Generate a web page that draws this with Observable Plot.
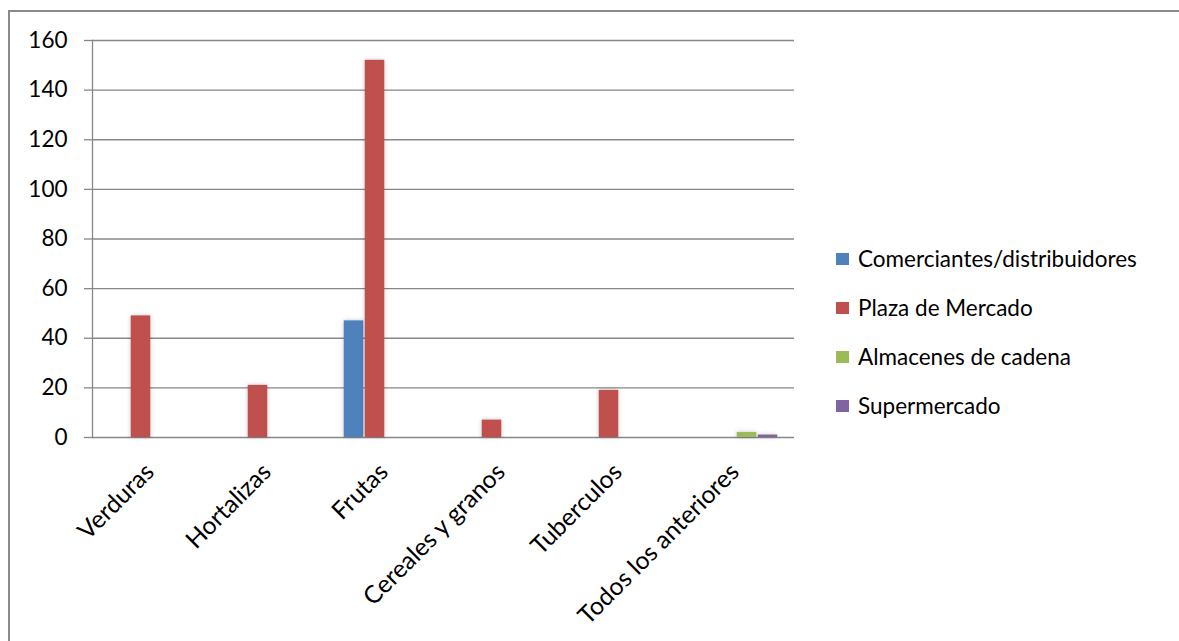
<!DOCTYPE html>
<html>
<head>
<meta charset="utf-8">
<script src="https://cdn.jsdelivr.net/npm/d3@7"></script>
<script src="https://cdn.jsdelivr.net/npm/@observablehq/plot@0.6"></script>
<style>
  body { margin: 0; background: #fff; }
  #wrap { position: relative; width: 1179px; height: 641px; overflow: hidden;
          font-family: Lato, "Open Sans", sans-serif; }
  #border { position: absolute; left: 8px; top: 10px; width: 1400px; height: 900px;
            border: 2px solid #8a8a8a; box-sizing: border-box; }
  #chart { position: absolute; left: 0; top: 0; }
  #chart g[aria-label="bar"] rect { filter: drop-shadow(0 0 2px rgba(0,0,0,0.22)); }
  #legend { position: absolute; left: 836px; top: 234px; }
  .item { display: flex; align-items: center; height: 49px; font-size: 22.5px; color: #000; }
  .swatch { width: 13px; height: 12px; margin-right: 9px; }
</style>
</head>
<body>
<div id="wrap">
  <div id="border"></div>
  <div id="chart"></div>
  <div id="legend"></div>
</div>
<script>
// Food categories and where households buy them
const categories = ["Verduras", "Hortalizas", "Frutas", "Cereales y granos", "Tuberculos", "Todos los anteriores"];
const series = ["Comerciantes/distribuidores", "Plaza de Mercado", "Almacenes de cadena", "Supermercado"];
const colors = ["#4F81BD", "#C0504D", "#9BBB59", "#8064A2"];

// One value per category, per purchase place
const comerciantes = [0, 0, 47, 0, 0, 0];
const plaza = [49, 21, 152, 7, 19, 0];
const almacenes = [0, 0, 0, 0, 0, 2];
const supermercado = [0, 0, 0, 0, 0, 1];

const yTicks = [0, 20, 40, 60, 80, 100, 120, 140, 160];

const seriesValues = [comerciantes, plaza, almacenes, supermercado];
const rows = categories.flatMap((c, i) =>
  series.map((s, j) => ({category: c, series: s, value: seriesValues[j][i]}))
).filter(d => d.value > 0);

const gridColor = "#878787";
const fontSize = 22.5;
const categoryFontSize = 24.6;

const chart = Plot.plot({
  width: 1179,
  height: 641,
  marginLeft: 92,
  marginRight: 385,
  marginTop: 40,
  marginBottom: 204,
  style: {fontFamily: "Lato, 'Open Sans', sans-serif", fontSize: fontSize + "px", color: "#000", background: "transparent"},
  fx: {domain: categories, padding: 0, axis: null},
  x: {domain: series, paddingInner: 0, paddingOuter: 0.72, axis: null},
  y: {domain: [0, 160], axis: null},
  color: {domain: series, range: colors},
  marks: [
    Plot.gridY(yTicks, {stroke: gridColor, strokeOpacity: 1, strokeWidth: 1.3}),
    Plot.axisY(yTicks, {tickSize: 8, tickPadding: 17, stroke: gridColor, strokeWidth: 1.3,
                        fill: "#000", fontSize: fontSize, label: null}),
    Plot.frame({anchor: "left", facetAnchor: "left", stroke: gridColor, strokeWidth: 1.3}),
    Plot.barY(rows, {fx: "category", x: "series", y: "value", fill: "series",
                     insetLeft: 0.75, insetRight: 0.75}),
    Plot.text(categories, {fx: d => d, text: d => d, frameAnchor: "bottom", rotate: -45,
                           textAnchor: "end", dx: 4.5, dy: 36, fontSize: categoryFontSize, fill: "#000"})
  ]
});
document.getElementById("chart").appendChild(chart);

// Legend: one row per purchase place
const legend = document.getElementById("legend");
series.forEach((s, i) => {
  const item = document.createElement("div");
  item.className = "item";
  const sw = document.createElement("span");
  sw.className = "swatch";
  sw.style.background = colors[i];
  const label = document.createElement("span");
  label.textContent = s;
  item.append(sw, label);
  legend.appendChild(item);
});
</script>
</body>
</html>
